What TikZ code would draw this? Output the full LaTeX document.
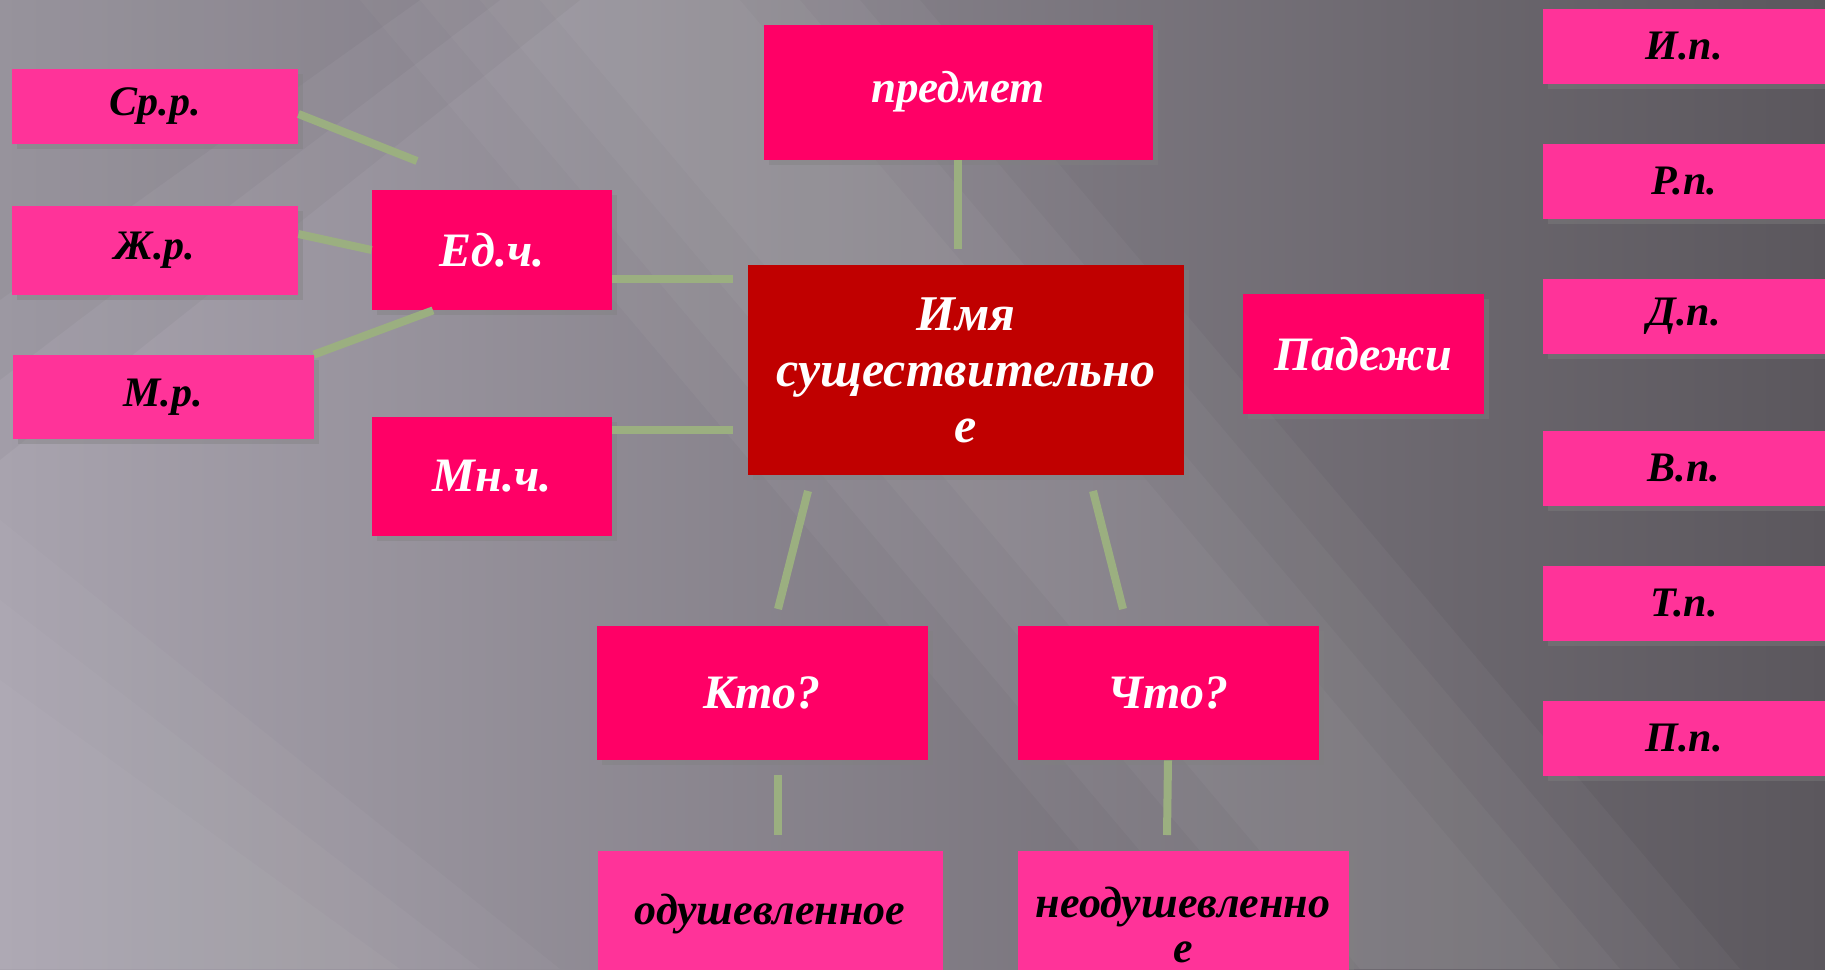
\documentclass[tikz,border=0pt]{standalone}
\usepackage{fontspec}
\setmainfont{Liberation Serif}
\usetikzlibrary{shadows}

\definecolor{hotpink}{HTML}{FF0066}
\definecolor{softpink}{HTML}{FF3399}
\definecolor{nounred}{HTML}{C00000}
\definecolor{sage}{HTML}{9BAF80}
\definecolor{bglight}{HTML}{A8A3AE}
\definecolor{bgdark}{HTML}{5B575D}

\begin{document}
\begin{tikzpicture}[x=0.5pt,y=-0.5pt,
  card/.style={inner sep=0pt,align=center,
    drop shadow={shadow xshift=2.5pt,shadow yshift=-2.5pt,opacity=.4}},
  hot/.style={card,fill=hotpink,text=white,
    font=\fontsize{24}{24}\selectfont\bfseries\itshape},
  soft/.style={card,fill=softpink,text=black,
    font=\fontsize{21}{25}\selectfont\bfseries\itshape},
  link/.style={draw=sage,line width=4pt}]

  \clip (0,0) rectangle (1825,969);
  \shade[left color=bglight,right color=bgdark] (0,0) rectangle (1825,969);
  \foreach \w in {0,60,120,180}
    \fill[white,opacity=.035] (540-\w,0) -- (740+\w,0) -- (1560+\w,969) -- (1360-\w,969) -- cycle;
  \foreach \w in {0,80,160}
    \fill[black,opacity=.03] (0,0) -- (420+\w,0) -- (0,300+\w) -- cycle;
  \foreach \w in {0,80,160}
    \fill[white,opacity=.03] (0,520+\w) -- (560-\w,969) -- (0,969) -- cycle;

  \node[soft,minimum width=143pt,minimum height=37.5pt] (sr) at (155,106) {Ср.р.};
  \node[soft,minimum width=143pt,minimum height=44.5pt] (zhr) at (155,250) {Ж.р.};
  \node[soft,minimum width=150.5pt,minimum height=42pt] (mr) at (163,397) {М.р.};

  \node[hot,minimum width=120pt,minimum height=60pt] (ed) at (492,250) {Ед.ч.};
  \node[hot,minimum width=120pt,minimum height=59.5pt] (mn) at (492,476) {Мн.ч.};

  \node[hot,minimum width=194.5pt,minimum height=67.5pt,
    font=\fontsize{22.5}{24}\selectfont\bfseries\itshape] (predmet) at (958,92) {предмет};
  \node[card,fill=nounred,text=white,minimum width=218pt,minimum height=105pt,
    font=\fontsize{25}{28}\selectfont\bfseries\itshape] (noun) at (966,370)
    {Имя\\существительно\\е};
  \node[hot,minimum width=120.5pt,minimum height=60pt] (padezhi) at (1363,354) {Падежи};

  \node[soft,minimum width=141pt,minimum height=37.5pt] (ip) at (1684,46) {И.п.};
  \node[soft,minimum width=141pt,minimum height=37.5pt] (rp) at (1684,181) {Р.п.};
  \node[soft,minimum width=141pt,minimum height=37.5pt] (dp) at (1684,316) {Д.п.};
  \node[soft,minimum width=141pt,minimum height=37.5pt] (vp) at (1684,468) {В.п.};
  \node[soft,minimum width=141pt,minimum height=37.5pt] (tp) at (1684,603) {Т.п.};
  \node[soft,minimum width=141pt,minimum height=37.5pt] (pp) at (1684,738) {П.п.};

  \node[hot,minimum width=165.5pt,minimum height=67pt] (kto) at (762,693) {Кто?};
  \node[hot,minimum width=150.5pt,minimum height=67pt] (chto) at (1168,693) {Что?};

  \node[soft,minimum width=172.5pt,minimum height=63pt,
    font=\fontsize{22}{25}\selectfont\bfseries\itshape] (odush) at (770,914) {одушевленное};
  \node[soft,minimum width=165.5pt,minimum height=74pt,
    font=\fontsize{22}{22.5}\selectfont\bfseries\itshape] (neodush) at (1183,925) {неодушевленно\\е};

  \coordinate (sr-tip) at (417,161);
  \coordinate (ed-tip) at (733,279);
  \coordinate (mn-tip) at (733,430);
  \coordinate (predmet-tip) at (958,249);
  \coordinate (kto-top) at (808,491);
  \coordinate (kto-tip) at (778,609);
  \coordinate (chto-top) at (1093,491);
  \coordinate (chto-tip) at (1123,609);
  \coordinate (odush-top) at (778,775);
  \coordinate (odush-tip) at (778,835);
  \coordinate (neodush-tip) at (1167,835);

  \draw[link] ([yshift=-4pt]sr.east) -- (sr-tip);
  \draw[link] ([yshift=8pt]zhr.east) -- (ed.west);
  \draw[link] (mr.north east) -- ([xshift=-29.5pt]ed.south);
  \draw[link] ([yshift=-14.5pt]ed.east) -- (ed-tip);
  \draw[link] ([yshift=23pt]mn.east) -- (mn-tip);
  \draw[link] (predmet.south) -- (predmet-tip);
  \draw[link] (kto-top) -- (kto-tip);
  \draw[link] (chto-top) -- (chto-tip);
  \draw[link] (odush-top) -- (odush-tip);
  \draw[link] (chto.south) -- (neodush-tip);
\end{tikzpicture}
\end{document}
